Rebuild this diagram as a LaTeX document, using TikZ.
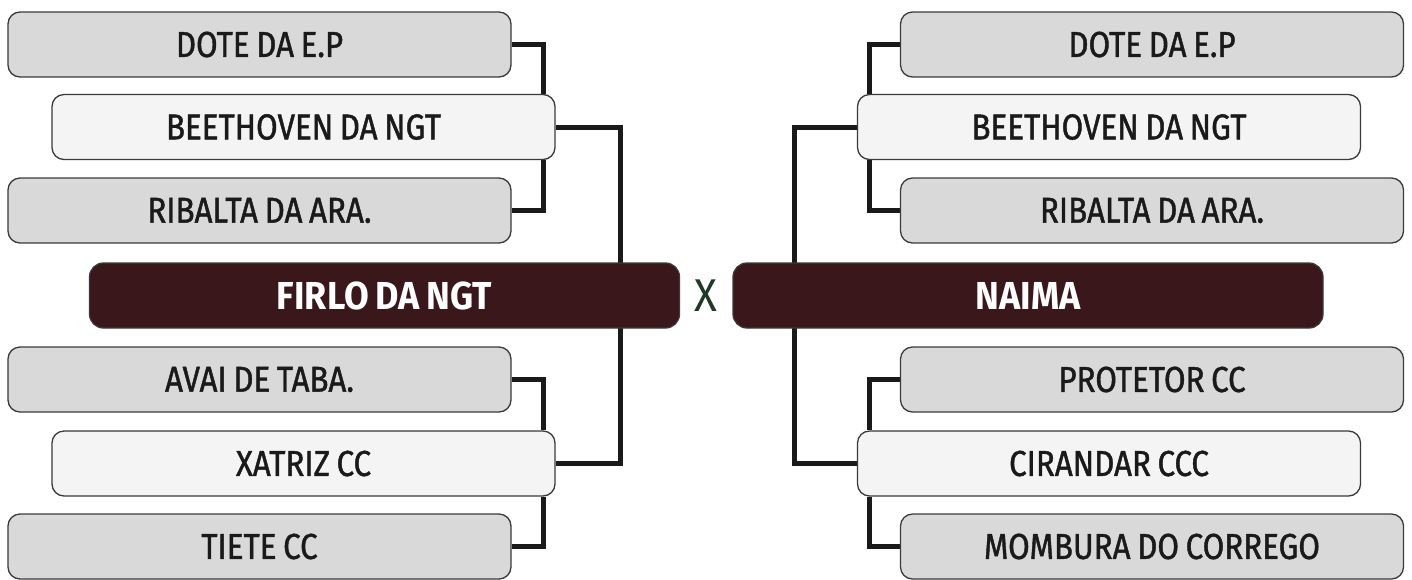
\documentclass[tikz,border=0pt]{standalone}
\usepackage{fontspec}
\setmainfont{Fira Sans}
\newfontfamily\labfont{Fira Sans}[FakeStretch=0.87,FakeBold=1.2,WordSpace=0.8]
\newfontfamily\titfont{Fira Sans}[FakeStretch=0.92,WordSpace=0.8]
\usetikzlibrary{backgrounds}
\definecolor{boxgray}{HTML}{D9D9D9}
\definecolor{boxlight}{HTML}{F4F4F4}
\definecolor{boxline}{HTML}{3A3A3A}
\definecolor{maroon}{HTML}{3A171A}
\definecolor{xgreen}{HTML}{1F3A24}
\definecolor{conncol}{HTML}{1A1A1A}
\tikzset{
  team/.style={rectangle, rounded corners=12pt, draw=boxline, line width=1.3pt,
    fill=boxgray, minimum width=503pt, minimum height=65pt, inner sep=0pt,
    font=\labfont\fontsize{36}{40}\selectfont, text=conncol},
  winner/.style={team, fill=boxlight},
  finalist/.style={rectangle, rounded corners=14pt, draw=boxline, line width=1.3pt,
    fill=maroon, minimum width=590pt, minimum height=65pt, inner sep=0pt,
    font=\titfont\bfseries\fontsize{39}{42}\selectfont, text=white},
  conn/.style={draw=conncol, line width=5pt}
}
\begin{document}
\begin{tikzpicture}[x=1pt,y=-1pt]
\path[use as bounding box] (0,0) rectangle (1412,579);
% left side
\node[team]   (l1) at (259.5,44.5)  {DOTE DA E.P};
\node[winner] (l2) at (303.5,127)   {BEETHOVEN DA NGT};
\node[team]   (l3) at (259.5,210.5) {RIBALTA DA ARA.};
\node[finalist] (fl) at (384.5,295.5) {FIRLO DA NGT};
\node[team]   (l4) at (259.5,379.5) {AVAI DE TABA.};
\node[winner] (l5) at (303.5,463.5) {XATRIZ CC};
\node[team]   (l6) at (259.5,546.5) {TIETE CC};
% right side
\node[team]   (r1) at (1152,44.5)  {DOTE DA E.P};
\node[winner] (r2) at (1109,127)   {BEETHOVEN DA NGT};
\node[team]   (r3) at (1152,210.5) {RIBALTA DA ARA.};
\node[finalist] (fr) at (1028,295.5) {NAIMA};
\node[team]   (r4) at (1152,379.5) {PROTETOR CC};
\node[winner] (r5) at (1109,463.5) {CIRANDAR CCC};
\node[team]   (r6) at (1152,546.5) {MOMBURA DO CORREGO};
% versus
\node[text=xgreen, font=\titfont\fontsize{46}{50}\selectfont, inner sep=0pt] (vs) at (706,296) {X};
% bracket coordinates
\coordinate (cl) at (543,0);
\coordinate (bl) at (620,0);
\coordinate (cr) at (869,0);
\coordinate (br) at (794,0);
\begin{scope}[on background layer]
  \draw[conn] (l1.east) -| (l2.north -| cl);
  \draw[conn] (l3.east) -| (l2.south -| cl);
  \draw[conn] (l4.east) -| (l5.north -| cl);
  \draw[conn] (l6.east) -| (l5.south -| cl);
  \draw[conn] (l2.east) -| (l5.east -| bl) -- (l5.east);
  \draw[conn] (r1.west) -| (r2.north -| cr);
  \draw[conn] (r3.west) -| (r2.south -| cr);
  \draw[conn] (r4.west) -| (r5.north -| cr);
  \draw[conn] (r6.west) -| (r5.south -| cr);
  \draw[conn] (r2.west) -| (r5.west -| br) -- (r5.west);
\end{scope}
\end{tikzpicture}
\end{document}
